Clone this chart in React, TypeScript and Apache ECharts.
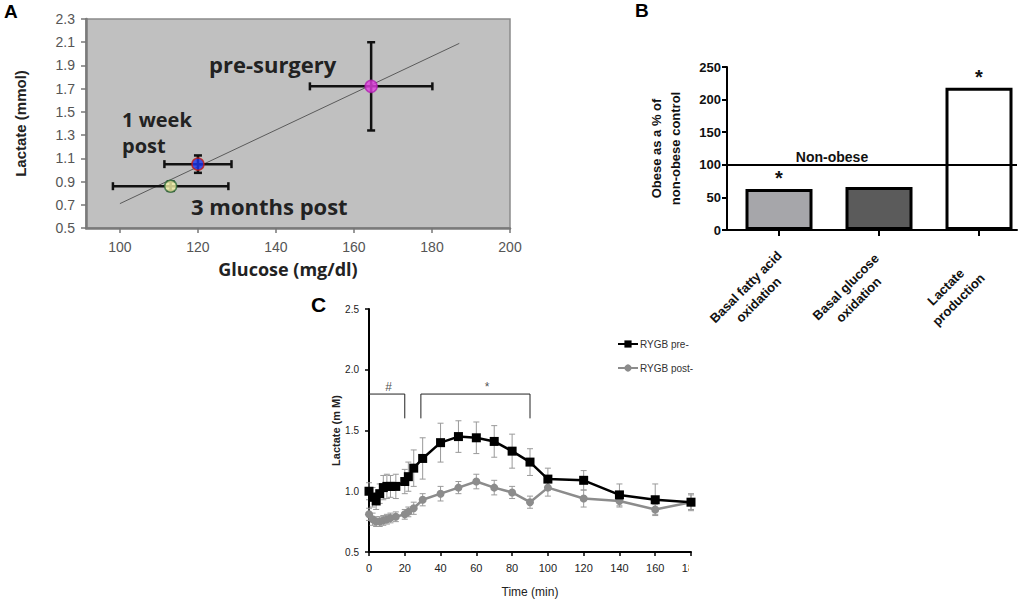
import React, { useEffect, useRef } from "react";
import * as echarts from "echarts";

// ---------- Panel A data ----------
const aPointNames = ["pre-surgery", "1 week post", "3 months post"];
const aGlucose = [164.4, 120, 113];
const aLactate = [1.72, 1.05, 0.86];
const aGlucoseErr = [15.7, 8.6, 14.8];
const aLactateErr = [0.38, 0.075, 0.04];
const aTrendLine = [
  [100, 0.71],
  [187, 2.09],
];
const aXTicks = [100, 120, 140, 160, 180, 200];
const aYTicks = [0.5, 0.7, 0.9, 1.1, 1.3, 1.5, 1.7, 1.9, 2.1, 2.3];

// ---------- Panel B data ----------
const bCategories = [
  "Basal fatty acid\noxidation",
  "Basal glucose\noxidation",
  "Lactate\nproduction",
];
const bValues = [63, 66, 218];
const bSignificance = ["*", "", "*"];
const bReference = 100;
const bReferenceLabel = "Non-obese";

// ---------- Panel C data ----------
const cTimes = [0, 2, 4, 6, 8, 10, 12, 15, 20, 22, 25, 30, 40, 50, 60, 70, 80, 90, 100, 120, 140, 160, 180];
const cPre = [1.0, 0.95, 0.92, 0.98, 1.03, 1.04, 1.04, 1.04, 1.08, 1.12, 1.19, 1.27, 1.4, 1.45, 1.44, 1.41, 1.33, 1.24, 1.1, 1.09, 0.97, 0.93, 0.91];
const cPreErr = [0.07, 0.08, 0.07, 0.08, 0.1, 0.1, 0.09, 0.1, 0.1, 0.12, 0.15, 0.17, 0.16, 0.13, 0.13, 0.13, 0.14, 0.11, 0.09, 0.08, 0.09, 0.13, 0.07];
const cPost = [0.81, 0.77, 0.75, 0.75, 0.76, 0.77, 0.78, 0.79, 0.81, 0.83, 0.86, 0.93, 0.98, 1.03, 1.08, 1.03, 0.99, 0.91, 1.03, 0.94, 0.92, 0.85, 0.91];
const cPostErr = [0.05, 0.05, 0.04, 0.04, 0.04, 0.04, 0.04, 0.04, 0.04, 0.04, 0.05, 0.05, 0.06, 0.05, 0.06, 0.06, 0.05, 0.05, 0.07, 0.07, 0.05, 0.04, 0.06];
const cHashBracket = [
  [0, 1.8],
  [20, 1.8],
  [20, 1.6],
];
const cStarBracket = [
  [29, 1.6],
  [29, 1.8],
  [90, 1.8],
  [90, 1.6],
];
const cMarks = [
  [11, 1.8, "#"],
  [66, 1.8, "*"],
];
const cSeriesNames = ["RYGB pre-", "RYGB post-"];

// ---------- styles ----------
const aFill = ["#e23fe0", "#1a34ee", "#f3f3a8"];
const aBorder = ["#b020b0", "#c01818", "#2e6a3a"];
const bFill = ["#a6a6aa", "#5b5b5b", "#ffffff"];
const ARIAL = "'Liberation Sans', Arial, sans-serif";
const NARROW = "'Liberation Sans Narrow', 'Liberation Sans', Arial, sans-serif";
const CAL = "'Open Sans', 'Liberation Sans', sans-serif";

function renderXYErr(params: any, api: any) {
  const x = api.value(0);
  const y = api.value(1);
  const ex = api.value(2);
  const ey = api.value(3);
  const l = api.coord([x - ex, y]);
  const r = api.coord([x + ex, y]);
  const t = api.coord([x, y + ey]);
  const b = api.coord([x, y - ey]);
  const cap = 4;
  const st = { stroke: "#111", lineWidth: 2.5 };
  return {
    type: "group",
    children: [
      { type: "line", shape: { x1: l[0], y1: l[1], x2: r[0], y2: r[1] }, style: st },
      { type: "line", shape: { x1: l[0], y1: l[1] - cap, x2: l[0], y2: l[1] + cap }, style: st },
      { type: "line", shape: { x1: r[0], y1: r[1] - cap, x2: r[0], y2: r[1] + cap }, style: st },
      { type: "line", shape: { x1: t[0], y1: t[1], x2: b[0], y2: b[1] }, style: st },
      { type: "line", shape: { x1: t[0] - cap, y1: t[1], x2: t[0] + cap, y2: t[1] }, style: st },
      { type: "line", shape: { x1: b[0] - cap, y1: b[1], x2: b[0] + cap, y2: b[1] }, style: st },
    ],
  };
}

function renderVErr(params: any, api: any) {
  const x = api.value(0);
  const y = api.value(1);
  const e = api.value(2);
  const t = api.coord([x, y + e]);
  const b = api.coord([x, y - e]);
  const cap = 3;
  const st = { stroke: "#9a9a9a", lineWidth: 1 };
  return {
    type: "group",
    children: [
      { type: "line", shape: { x1: t[0], y1: t[1], x2: b[0], y2: b[1] }, style: st },
      { type: "line", shape: { x1: t[0] - cap, y1: t[1], x2: t[0] + cap, y2: t[1] }, style: st },
      { type: "line", shape: { x1: b[0] - cap, y1: b[1], x2: b[0] + cap, y2: b[1] }, style: st },
    ],
  };
}

export default function App() {
  const ref = useRef<HTMLDivElement>(null);
  useEffect(() => {
    document.body.style.margin = "0";
    if (!ref.current) return;
    const chart = echarts.init(ref.current, null, { renderer: "svg" });

    const option: any = {
      animation: false,
      backgroundColor: "#ffffff",
      legend: {
        data: cSeriesNames,
        orient: "vertical",
        left: 612,
        top: 334,
        itemGap: 14,
        itemWidth: 20,
        itemHeight: 9,
        textStyle: { fontSize: 10, color: "#333", fontFamily: NARROW, padding: [0, 0, 0, -3] },
      },
      grid: [
        {
          left: 86, top: 19, width: 424, height: 209,
          show: true, backgroundColor: "#c0c0c0", borderColor: "#8a8a8a", borderWidth: 1.5,
        },
        { left: 727, top: 67, width: 290, height: 163 },
        { left: 369, top: 309, width: 322, height: 243 },
      ],
      xAxis: [
        {
          gridIndex: 0, type: "value", min: 91.3, max: 200,
          name: "Glucose (mg/dl)", nameLocation: "middle", nameGap: 32,
          nameTextStyle: { fontFamily: CAL, fontWeight: "bold", fontSize: 18, color: "#222", padding: [0, 20, 0, 0] },
          axisLine: { onZero: false, lineStyle: { color: "#7a7a7a", width: 2.5 } },
          axisTick: { show: true, customValues: aXTicks, length: 5, lineStyle: { color: "#777", width: 1.5 } },
          axisLabel: { customValues: aXTicks, fontSize: 14, color: "#555", fontFamily: ARIAL, margin: 12 },
          splitLine: { show: false },
        },
        {
          gridIndex: 1, type: "value", min: -0.52, max: 2.38,
          axisLine: { onZero: false, lineStyle: { color: "#000", width: 2 } },
          axisTick: { show: true, customValues: [0, 1, 2], length: 6, lineStyle: { color: "#000", width: 2 } },
          axisLabel: {
            customValues: [0, 1, 2],
            rotate: 45,
            align: "right",
            verticalAlign: "top",
            margin: 11,
            formatter: (v: number) =>
              bCategories[Math.round(v)].split("\n").map((s) => `{a|${s}}`).join("\n"),
            rich: {
              a: { width: 112, align: "center", fontWeight: "bold", fontSize: 13, fontFamily: ARIAL, color: "#111", lineHeight: 18 },
            },
          },
          splitLine: { show: false },
        },
        {
          gridIndex: 2, type: "value", min: 0, max: 180, interval: 20,
          name: "Time (min)", nameLocation: "middle", nameGap: 34,
          nameTextStyle: { fontFamily: NARROW, fontSize: 12, color: "#222" },
          axisLine: { onZero: false, lineStyle: { color: "#000", width: 2 } },
          axisTick: { show: true, length: 4, lineStyle: { color: "#000", width: 1.5 } },
          axisLabel: { fontSize: 11, color: "#222", fontFamily: NARROW, margin: 10 },
          splitLine: { show: false },
        },
      ],
      yAxis: [
        {
          gridIndex: 0, type: "value", min: 0.5, max: 2.3,
          name: "Lactate (mmol)", nameLocation: "middle", nameGap: 58,
          nameTextStyle: { fontFamily: ARIAL, fontWeight: "bold", fontSize: 15, color: "#222" },
          axisLine: { show: true, onZero: false, lineStyle: { color: "#7a7a7a", width: 2.5 } },
          axisTick: { show: true, customValues: aYTicks, length: 5, lineStyle: { color: "#777", width: 1.5 } },
          axisLabel: {
            customValues: aYTicks, fontSize: 14, color: "#555", fontFamily: ARIAL, margin: 11,
            formatter: (v: number) => v.toFixed(1),
          },
          splitLine: { show: false },
        },
        {
          gridIndex: 1, type: "value", min: 0, max: 250, interval: 50,
          name: "Obese as a % of\nnon-obese control", nameLocation: "middle", nameGap: 42,
          nameTextStyle: { fontFamily: ARIAL, fontWeight: "bold", fontSize: 13, color: "#111", lineHeight: 19 },
          axisLine: { show: true, onZero: false, lineStyle: { color: "#000", width: 2 } },
          axisTick: { show: true, length: 5, lineStyle: { color: "#000", width: 2 } },
          axisLabel: { fontSize: 13, fontWeight: "bold", color: "#111", fontFamily: ARIAL, margin: 6 },
          splitLine: { show: false },
        },
        {
          gridIndex: 2, type: "value", min: 0.5, max: 2.5, interval: 0.5,
          name: "Lactate (m M)", nameLocation: "middle", nameGap: 26,
          nameTextStyle: { fontFamily: NARROW, fontWeight: "bold", fontSize: 11, color: "#222" },
          axisLine: { show: true, onZero: false, lineStyle: { color: "#000", width: 2 } },
          axisTick: { show: true, length: 4, lineStyle: { color: "#000", width: 1.5 } },
          axisLabel: { fontSize: 10, color: "#222", fontFamily: NARROW, margin: 10, formatter: (v: number) => v.toFixed(1) },
          splitLine: { show: false },
        },
      ],
      series: [
        // Panel A
        {
          type: "line", xAxisIndex: 0, yAxisIndex: 0, data: aTrendLine, showSymbol: false,
          lineStyle: { color: "#5a5a5a", width: 1 }, z: 2, silent: true,
        },
        {
          type: "custom", xAxisIndex: 0, yAxisIndex: 0,
          data: aGlucose.map((g, i) => [g, aLactate[i], aGlucoseErr[i], aLactateErr[i]]),
          encode: { x: 0, y: 1 },
          renderItem: renderXYErr, z: 3,
        },
        {
          type: "scatter", xAxisIndex: 0, yAxisIndex: 0, symbolSize: 12, z: 5,
          data: aGlucose.map((g, i) => ({
            name: aPointNames[i],
            value: [g, aLactate[i]],
            itemStyle: { color: aFill[i], borderColor: aBorder[i], borderWidth: 1.5 },
          })),
        },
        // Panel B
        {
          type: "bar", xAxisIndex: 1, yAxisIndex: 1, barWidth: 67,
          data: bValues.map((v, i) => ({ value: [i, v], itemStyle: { color: bFill[i] } })),
          itemStyle: { borderColor: "#000", borderWidth: 3 },
          label: {
            show: true, position: "top", distance: 1,
            formatter: (p: any) => bSignificance[p.dataIndex],
            fontSize: 20, fontWeight: "bold", color: "#111", fontFamily: ARIAL,
          },
          markLine: {
            silent: true, symbol: "none",
            lineStyle: { color: "#000", width: 2, type: "solid" },
            label: { show: false },
            data: [{ yAxis: bReference }],
          },
        },
        // Panel C
        {
          type: "custom", xAxisIndex: 2, yAxisIndex: 2,
          data: cTimes.map((t, i) => [t, cPre[i], cPreErr[i]]),
          encode: { x: 0, y: 1 }, renderItem: renderVErr, z: 1,
        },
        {
          type: "custom", xAxisIndex: 2, yAxisIndex: 2,
          data: cTimes.map((t, i) => [t, cPost[i], cPostErr[i]]),
          encode: { x: 0, y: 1 }, renderItem: renderVErr, z: 1,
        },
        {
          name: cSeriesNames[0], type: "line", xAxisIndex: 2, yAxisIndex: 2,
          data: cTimes.map((t, i) => [t, cPre[i]]),
          symbol: "rect", symbolSize: 9, color: "#000",
          lineStyle: { color: "#000", width: 2.5 }, z: 4,
        },
        {
          name: cSeriesNames[1], type: "line", xAxisIndex: 2, yAxisIndex: 2,
          data: cTimes.map((t, i) => [t, cPost[i]]),
          symbol: "circle", symbolSize: 8, color: "#8c8c8c",
          lineStyle: { color: "#8c8c8c", width: 2.5 }, z: 3,
        },
        {
          type: "line", xAxisIndex: 2, yAxisIndex: 2, data: cHashBracket, showSymbol: false,
          lineStyle: { color: "#222", width: 1 }, silent: true,
        },
        {
          type: "line", xAxisIndex: 2, yAxisIndex: 2, data: cStarBracket, showSymbol: false,
          lineStyle: { color: "#222", width: 1 }, silent: true,
        },
        {
          type: "scatter", xAxisIndex: 2, yAxisIndex: 2, symbolSize: 0, silent: true,
          data: cMarks.map((m) => ({ value: [m[0], m[1]], name: m[2] })),
          label: {
            show: true, position: "top", distance: 1, formatter: (p: any) => p.name,
            fontSize: 12, color: "#222", fontFamily: NARROW,
          },
        },
      ],
      graphic: [
        { type: "text", left: 4, top: 2, style: { text: "A", font: `bold 19px ${ARIAL}`, fill: "#000" } },
        { type: "text", left: 635, top: 1, style: { text: "B", font: `bold 19px ${ARIAL}`, fill: "#000" } },
        { type: "text", left: 311, top: 294, style: { text: "C", font: `bold 21px ${ARIAL}`, fill: "#000" } },
        {
          type: "text", x: 209, y: 64,
          style: { text: "pre-surgery", font: `bold 22px ${CAL}`, fill: "#222", verticalAlign: "middle" },
        },
        {
          type: "text", x: 122, y: 119,
          style: { text: "1 week", font: `bold 20px ${CAL}`, fill: "#222", verticalAlign: "middle" },
        },
        {
          type: "text", x: 122, y: 145,
          style: { text: "post", font: `bold 20px ${CAL}`, fill: "#222", verticalAlign: "middle" },
        },
        {
          type: "text", x: 191, y: 206,
          style: { text: "3 months post", font: `bold 22px ${CAL}`, fill: "#222", verticalAlign: "middle" },
        },
        {
          type: "text", x: 832, y: 157,
          style: { text: bReferenceLabel, font: `bold 14px ${ARIAL}`, fill: "#111", align: "center", verticalAlign: "middle" },
        },
        { type: "rect", shape: { x: 689, y: 556, width: 28, height: 18 }, style: { fill: "#ffffff" }, z: 100 },
      ],
    };
    chart.setOption(option);
    return () => chart.dispose();
  }, []);
  return <div ref={ref} style={{ width: 1033, height: 600 }} />;
}
